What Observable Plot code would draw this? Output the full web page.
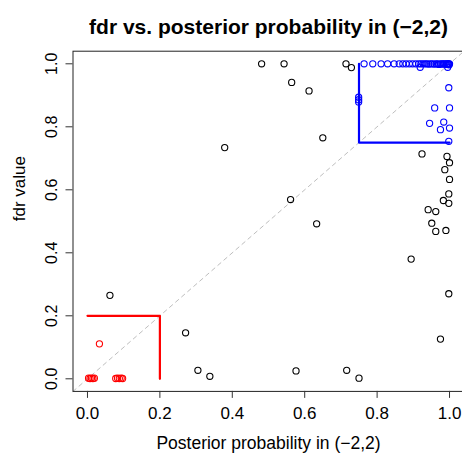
<!DOCTYPE html>
<html>
<head>
<meta charset="utf-8">
<script src="https://cdn.jsdelivr.net/npm/d3@7"></script>
<script src="https://cdn.jsdelivr.net/npm/@observablehq/plot@0.6"></script>
<style>
  html, body { margin: 0; padding: 0; background: white; }
</style>
</head>
<body>
<div id="chart"></div>
<script>
// ---- data ----
const titleText = "fdr vs. posterior probability in (\u22122,2)";
const xLabel = "Posterior probability in (\u22122,2)";
const yLabel = "fdr value";
const tickValues = [0, 0.2, 0.4, 0.6, 0.8, 1.0];
const axisDomain = [-0.04, 1.04];
const lowCut = 0.2;
const highCut = 0.75;

// black (other) points: [posterior, fdr]
const blackPts = [
  [0.481, 1.0], [0.543, 1.0], [0.714, 1.0], [0.729, 0.988], [0.564, 0.941],
  [0.612, 0.914], [0.650, 0.765], [0.379, 0.734], [0.561, 0.569], [0.633, 0.492],
  [0.271, 0.146], [0.305, 0.027], [0.338, 0.008], [0.576, 0.025], [0.716, 0.027],
  [0.750, 0.002], [0.062, 0.265], [0.924, 0.714], [0.993, 0.706], [1.0, 0.686],
  [0.987, 0.664], [1.0, 0.633], [0.998, 0.587], [0.983, 0.566], [0.998, 0.557],
  [0.941, 0.537], [0.962, 0.531], [0.951, 0.494], [0.962, 0.468], [0.990, 0.471],
  [0.894, 0.380], [0.998, 0.270], [0.975, 0.126]
];

// red (low) points
const redPts = [
  [0.033, 0.111],
  [0.003, 0.002], [0.007, 0.001], [0.011, 0.002], [0.015, 0.001], [0.019, 0.002],
  [0.078, 0.001], [0.083, 0.002], [0.088, 0.001], [0.093, 0.002], [0.097, 0.001]
];

// blue (high) points
const bluePts = [
  [0.764, 1.0], [0.788, 1.0], [0.811, 1.0], [0.829, 1.0], [0.847, 1.0],
  [0.861, 1.0], [0.871, 1.0], [0.880, 1.0], [0.889, 1.0], [0.898, 1.0],
  [0.907, 1.0], [0.915, 1.0], [0.921, 1.0], [0.927, 1.0], [0.933, 1.0],
  [0.938, 1.0], [0.943, 0.999], [0.948, 1.0], [0.953, 1.0], [0.958, 0.999],
  [0.963, 1.0], [0.967, 1.0], [0.971, 0.998], [0.975, 1.0], [0.979, 1.0],
  [0.982, 0.999], [0.985, 1.0], [0.988, 1.0], [0.991, 0.998], [0.993, 1.0],
  [0.995, 1.0], [0.997, 0.999], [0.998, 1.0], [0.999, 0.997], [1.0, 1.0],
  [0.919, 0.989], [0.995, 0.989],
  [0.749, 0.894], [0.749, 0.886], [0.749, 0.879],
  [0.998, 0.924], [0.959, 0.860], [1.0, 0.860], [0.945, 0.811], [0.984, 0.815],
  [0.975, 0.791], [1.0, 0.796], [0.998, 0.754]
];

// threshold guides built from cut values
const redGuide = [[0, lowCut], [lowCut, lowCut], [lowCut, 0]];
const blueGuide = [[highCut, 1], [highCut, highCut], [1, highCut]];
const diagGuide = [[axisDomain[0], axisDomain[0]], [axisDomain[1], axisDomain[1]]];

const font = "'Liberation Sans', Arial, Helvetica, sans-serif";

const chart = Plot.plot({
  width: 462,
  height: 455,
  marginTop: 50.7,
  marginLeft: 72.5,
  marginRight: -1.5,
  marginBottom: 64.1,
  x: { domain: axisDomain },
  y: { domain: axisDomain },
  style: { fontFamily: font, background: "white", color: "black" },
  marks: [
    Plot.line(diagGuide, { x: d => d[0], y: d => d[1], stroke: "#bebebe", strokeWidth: 1, strokeDasharray: "4,4" }),
    Plot.line(redGuide, { x: d => d[0], y: d => d[1], stroke: "red", strokeWidth: 2.2 }),
    Plot.line(blueGuide, { x: d => d[0], y: d => d[1], stroke: "blue", strokeWidth: 2.2 }),
    Plot.dot(blackPts, { x: d => d[0], y: d => d[1], r: 3.1, stroke: "black", strokeWidth: 1.1, fill: "none" }),
    Plot.dot(redPts, { x: d => d[0], y: d => d[1], r: 3.1, stroke: "red", strokeWidth: 1.1, fill: "none" }),
    Plot.dot(bluePts, { x: d => d[0], y: d => d[1], r: 3.1, stroke: "blue", strokeWidth: 1.1, fill: "none" }),
    Plot.frame({ stroke: "#222", strokeWidth: 1 }),
    Plot.axisX({ ticks: tickValues, tickSize: 7, tickPadding: 9, tickFormat: d => d.toFixed(1), fontSize: 17, label: null, stroke: "#333" }),
    Plot.axisY({ ticks: tickValues, tickSize: 7, tickPadding: 9, tickRotate: -90, tickFormat: d => d.toFixed(1), fontSize: 16, label: null, stroke: "#333" }),
    Plot.text([titleText], { frameAnchor: "top", dy: -32, fontSize: 21, fontWeight: "bold", text: d => d }),
    Plot.text([xLabel], { frameAnchor: "bottom", dy: 58, fontSize: 17.5, text: d => d }),
    Plot.text([yLabel], { frameAnchor: "left", dx: -53.5, rotate: -90, fontSize: 17, text: d => d })
  ]
});
document.getElementById("chart").appendChild(chart);
</script>
</body>
</html>
